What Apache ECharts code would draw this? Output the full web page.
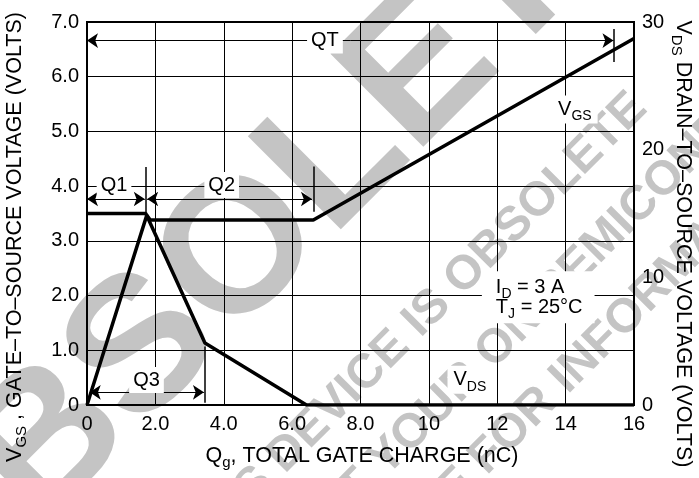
<!DOCTYPE html>
<html>
<head>
<meta charset="utf-8">
<script src="https://cdn.jsdelivr.net/npm/echarts@6/dist/echarts.min.js"></script>
<style>
  html, body { margin: 0; padding: 0; background: #fff; }
  #chart { width: 699px; height: 478px; }
</style>
</head>
<body>
<div id="chart"></div>
<script>
// gate charge curves
var vgsQ = [0, 1.75, 1.85, 6.62, 16];
var vgsV = [0, 3.47, 3.38, 3.38, 6.70];     // left axis, volts
var vdsQ = [0, 1.72, 3.45, 6.42, 16];
var vdsV = [15, 15, 4.85, 0, 0];            // right axis, volts

var xTickLabels = ['0', '2.0', '4.0', '6.0', '8.0', '10', '12', '14', '16'];
var yTickLabels = ['0', '1.0', '2.0', '3.0', '4.0', '5.0', '6.0', '7.0'];
var y2TickLabels = ['0', '10', '20', '30'];

// charge intervals: [qFrom, qTo, v]
var qSpans = [[0, 15.4, 6.66], [0, 1.69, 3.765], [1.76, 6.58, 3.765], [0.08, 3.42, 0.232]];
// end marks: [q, vLow, vHigh]
var qMarks = [[15.4, 6.27, 6.87], [1.72, 3.47, 4.35], [6.62, 3.53, 4.36], [3.45, 0.04, 1.07]];
var qNames = ['QT', 'Q1', 'Q2', 'Q3'];
var qNamePos = [[6.96, 6.66], [0.79, 4.02], [3.94, 4.02], [1.74, 0.457]];

var FONT = 'Liberation Sans, Arial, Helvetica, sans-serif';
var GREY = '#c4c4c4';

var chartDom = document.getElementById('chart');
var myChart = echarts.init(chartDom);

var rich = {
  a: { fontSize: 20, fontFamily: FONT, fill: '#000', lineHeight: 20, verticalAlign: 'top' },
  s: { fontSize: 14, fontFamily: FONT, fill: '#000', lineHeight: 14, padding: [10, 0, 0, 0], verticalAlign: 'top' }
};
// slightly larger type for the axis titles
var richTitle = {
  a: { fontSize: 21.5, fontFamily: FONT, fill: '#000', lineHeight: 21, verticalAlign: 'top' },
  s: { fontSize: 15, fontFamily: FONT, fill: '#000', lineHeight: 15, padding: [10, 0, 0, 0], verticalAlign: 'top' }
};

var option = {
  backgroundColor: '#fff',
  animation: false,
  grid: { left: 87, right: 65, top: 22, bottom: 73, show: true, borderColor: '#000', borderWidth: 2 },
  xAxis: {
    type: 'value', min: 0, max: 16, interval: 2,
    axisLine: { lineStyle: { color: '#000', width: 2 } },
    axisTick: { show: false },
    splitLine: { lineStyle: { color: '#000', width: 1 } },
    axisLabel: {
      color: '#000', fontSize: 20, fontFamily: FONT, margin: 9,
      formatter: function (v) { return xTickLabels[Math.round(v / 2)]; }
    }
  },
  yAxis: [
    {
      type: 'value', min: 0, max: 7, interval: 1,
      axisLine: { show: true, lineStyle: { color: '#000', width: 2 } },
      axisTick: { show: false },
      splitLine: { lineStyle: { color: '#000', width: 1 } },
      axisLabel: {
        color: '#000', fontSize: 20, fontFamily: FONT, margin: 8,
        formatter: function (v) { return yTickLabels[Math.round(v)]; }
      }
    },
    {
      type: 'value', min: 0, max: 30, interval: 10, position: 'right',
      axisLine: { show: true, lineStyle: { color: '#000', width: 2 } },
      axisTick: { show: false },
      splitLine: { show: false },
      axisLabel: {
        color: '#000', fontSize: 20, fontFamily: FONT, margin: 8,
        formatter: function (v) { return y2TickLabels[Math.round(v / 10)]; }
      }
    }
  ],
  series: [
    {
      name: 'VGS', type: 'line', yAxisIndex: 0, symbol: 'none', z: 5,
      data: vgsQ.map(function (q, i) { return [q, vgsV[i]]; }),
      lineStyle: { color: '#000', width: 3.5 }
    },
    {
      name: 'VDS', type: 'line', yAxisIndex: 1, symbol: 'none', z: 5,
      data: vdsQ.map(function (q, i) { return [q, vdsV[i]]; }),
      lineStyle: { color: '#000', width: 3.5 }
    },
    {
      name: 'spans', type: 'lines', coordinateSystem: 'cartesian2d', z: 4,
      symbol: ['arrow', 'arrow'], symbolSize: 11,
      lineStyle: { color: '#000', width: 1, opacity: 1 },
      data: qSpans.map(function (s) { return { coords: [[s[0], s[2]], [s[1], s[2]]] }; })
    },
    {
      name: 'marks', type: 'lines', coordinateSystem: 'cartesian2d', z: 4,
      symbol: 'none',
      lineStyle: { color: '#000', width: 1.5, opacity: 1 },
      data: qMarks.map(function (m) { return { coords: [[m[0], m[1]], [m[0], m[2]]] }; })
    }
  ]
};

myChart.setOption(option);

function px(q, v) {
  return myChart.convertToPixel({ xAxisIndex: 0, yAxisIndex: 0 }, [q, v]);
}

function label(text, q, v, align, pad) {
  var p = px(q, v);
  return {
    type: 'text', x: p[0], y: p[1], z: 100,
    style: {
      text: text, rich: rich, align: align || 'center', verticalAlign: 'middle',
      backgroundColor: '#fff', padding: pad || [3, 4], font: '20px ' + FONT, fill: '#000'
    }
  };
}

var graphics = [
  // watermark
  {
    type: 'group', x: 343, y: 250, rotation: Math.PI / 4, z: -100,
    children: [
      { type: 'text', x: -562, y: -69, z: -100, style: { text: 'OBSOLETE', font: 'bold 191px ' + FONT, fill: GREY, align: 'left', verticalAlign: 'middle' } },
      { type: 'text', x: 315, y: 104, z: -100, style: { text: 'THIS DEVICE IS OBSOLETE', font: 'bold 48px ' + FONT, fill: GREY, align: 'right', verticalAlign: 'middle' } },
      { type: 'text', x: -375, y: 178, z: -100, style: { text: 'CONTACT YOUR ON SEMICONDUCTOR', font: 'bold 48px ' + FONT, fill: GREY, align: 'left', verticalAlign: 'middle' } },
      { type: 'text', x: -499, y: 248, z: -100, style: { text: 'REPRESENTATIVE FOR INFORMATION', font: 'bold 48px ' + FONT, fill: GREY, align: 'left', verticalAlign: 'middle' } }
    ]
  },
  // axis titles
  {
    type: 'text', x: 362, y: 456, z: 100,
    style: { text: '{a|Q}{s|g}{a|, TOTAL GATE CHARGE (nC)}', rich: richTitle, align: 'center', verticalAlign: 'middle' }
  },
  {
    type: 'text', x: 15, y: 237, rotation: Math.PI / 2, z: 100,
    style: { text: '{a|V}{s|GS}{a| , GATE\u2013TO\u2013SOURCE VOLTAGE (VOLTS)}', rich: richTitle, align: 'center', verticalAlign: 'middle' }
  },
  {
    type: 'text', x: 683, y: 244, rotation: -Math.PI / 2, z: 100,
    style: { text: '{a|V}{s|DS}{a| DRAIN\u2013TO\u2013SOURCE VOLTAGE (VOLTS)}', rich: richTitle, align: 'center', verticalAlign: 'middle' }
  }
];

qNames.forEach(function (n, i) {
  graphics.push(label('{a|' + n + '}', qNamePos[i][0], qNamePos[i][1]));
});
graphics.push(label('{a|V}{s|GS}', 14.27, 5.40, 'center', [4, 6]));
graphics.push(label('{a|V}{s|DS}', 11.2, 0.46, 'center', [4, 6]));
graphics.push(label('{a|I}{s|D}{a| = 3 A}\n{a|T}{s|J}{a| = 25\u00B0C}', 11.55, 1.97, 'left', [6, 12, 6, 14]));

myChart.setOption({ graphic: graphics });
</script>
</body>
</html>
